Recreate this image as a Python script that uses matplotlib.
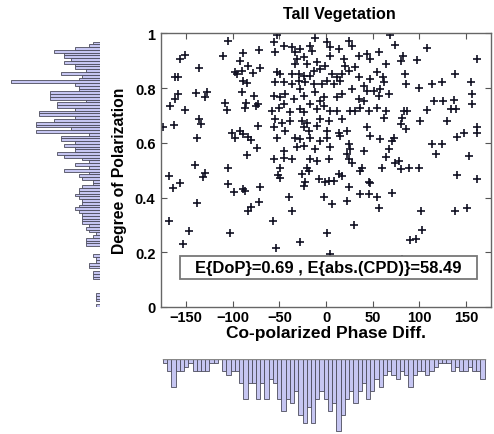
import numpy as np
import matplotlib.pyplot as plt
from matplotlib.patches import Rectangle

plt.rcParams['font.family'] = ['Liberation Sans', 'DejaVu Sans']
plt.rcParams['font.weight'] = 'bold'

# scatter: co-polarized phase difference (deg) vs degree of polarization
phase_diff = [
    -104.7, -151.3, -156.7, -110.1, -89.2, -71.4, -92.2, -135.9, -162.0, -158.5,
    -97.5, -95.7, -83.2, -90.3, -78.5, -70.6, -88.6, -84.3, -158.5, -162.0,
    -139.5, -128.0, -129.8, -90.3, -77.8, -72.5, -74.9, -85.7, -86.8, -167.4,
    -151.3, -108.3, -106.5, -174.6, -163.1, -135.9, -134.4, -138.7, -101.1, -97.5,
    -92.2, -88.6, -83.2, -80.6, -72.5, -74.2, -84.3, -140.5, -104.7,
    -168.2, -164.5, -156.7, -129.8, -132.3, -104.7, -98.6, -88.6, -86.8, -70.6,
    -138.7, -83.2, -80.6, -71.4, -168.2, -146.7, -102.9, -153.1, -51.0,
    -52.7, -56.3, -45.6, -54.5, -36.6, -33.0, -27.6, -16.9, -15.1, -11.5,
    1.0, 3.9, 13.6, 24.3, 27.9, 35.1, 44.0, 47.6, 56.6, -31.2,
    -24.1, -33.0, -20.5, -9.7, -0.8, 4.6, 18.9, 20.7, 31.5, -52.7,
    -49.1, -36.6, -29.4, -24.1, -16.9, -13.3, -6.1, 6.4, 11.8, 17.2,
    24.3, 35.1, 40.5, 47.6, 54.8, -54.5, -45.6, -36.6, -29.4, -22.3,
    -27.6, -13.3, -4.3, 1.0, 8.2, 15.4, 27.9, 44.0, 51.2, -43.8,
    -49.1, -56.3, -34.8, -24.1, -11.5, -6.1, -2.6, 11.8, 17.2, 35.1,
    40.5, 56.6, 58.4, -58.1, -50.9, -45.6, -38.4, -27.6, -24.1, -25.9,
    -16.9, -9.7, -6.1, -2.6, 4.6, 11.8, 26.1, 31.5, 36.9, 45.8,
    54.8, -54.5, -47.4, -38.4, -20.5, 2.8, 17.2, -56.3, -43.8, -24.1,
    -18.7, -9.7, 1.0, 13.6, 22.5, 44.0, -52.7, -33.0, -27.6, -16.9,
    -6.1, 1.0, 15.4, 47.6, 58.4, -45.6, -31.2, -24.1, -11.5, 4.6,
    24.3, 26.1, 22.5, 40.5, -56.3, -45.6, -36.6, -16.9, -9.7, 2.8,
    24.3, 27.9, -49.1, -20.5, 38.7,
    68.4, 74.5, 63.8, 79.9, 82.8, 97.8, 107.9, 161.6, 84.2, 61.3,
    62.7, 85.3, 99.6, 114.0, 124.7, 138.0, 155.2, 157.0, 67.4, 115.7,
    125.8, 137.2, 157.0, 63.8, 62.0, 83.5, 87.1, 108.6, 133.7, 139.0,
    81.7, 79.9, 85.3, 100.7, 130.1, 162.3, 162.3, 148.0, 140.8, 72.7,
    70.9, 114.0, 124.7, 67.4, 117.5, 153.4, 63.8, 74.5, 78.1, 88.9,
    99.6, 79.9, 60.2,
    -49.9, -25.9, -18.7, -24.1, -22.3, -7.9, -0.8, 2.8, 8.2, 13.6,
    17.2, 24.3, 36.1, 45.8, 47.6, 36.9, 45.8, 54.8, -40.2, -2.6,
    6.4, 22.5, -36.6, -57.0, 29.7, 1.0, -28.4, -53.4, 4.6, 56.6,
    70.9, 101.4, 137.9, 150.9, 103.2, 89.9, 96.0, 81.7, 140.9, 162.3,
]
dop = [
    0.971, 0.922, 0.906, 0.918, 0.930, 0.940, 0.900, 0.872, 0.841, 0.841,
    0.857, 0.851, 0.882, 0.863, 0.854, 0.873, 0.827, 0.820, 0.778, 0.760,
    0.782, 0.784, 0.766, 0.786, 0.772, 0.741, 0.735, 0.747, 0.729, 0.735,
    0.719, 0.747, 0.719, 0.656, 0.664, 0.686, 0.668, 0.617, 0.637, 0.617,
    0.644, 0.632, 0.622, 0.610, 0.662, 0.582, 0.556, 0.518, 0.509,
    0.480, 0.435, 0.453, 0.490, 0.474, 0.449, 0.421, 0.431, 0.425, 0.437,
    0.380, 0.352, 0.364, 0.385, 0.315, 0.278, 0.272, 0.230, 0.482,
    0.995, 0.967, 0.955, 0.931, 0.949, 0.931, 0.943, 0.955, 0.937, 0.983,
    0.967, 0.949, 0.943, 0.973, 0.955, 0.918, 0.924, 0.906, 0.931, 0.906,
    0.912, 0.888, 0.888, 0.894, 0.882, 0.918, 0.906, 0.882, 0.876, 0.857,
    0.851, 0.851, 0.851, 0.845, 0.845, 0.863, 0.869, 0.851, 0.839, 0.851,
    0.863, 0.839, 0.808, 0.833, 0.857, 0.821, 0.821, 0.815, 0.827, 0.821,
    0.796, 0.815, 0.815, 0.827, 0.815, 0.827, 0.796, 0.790, 0.790, 0.778,
    0.766, 0.772, 0.760, 0.772, 0.784, 0.753, 0.766, 0.766, 0.778, 0.760,
    0.753, 0.772, 0.796, 0.717, 0.729, 0.741, 0.711, 0.723, 0.711, 0.680,
    0.741, 0.723, 0.686, 0.735, 0.717, 0.717, 0.717, 0.717, 0.729, 0.717,
    0.729, 0.686, 0.674, 0.680, 0.674, 0.680, 0.686, 0.656, 0.644, 0.656,
    0.644, 0.662, 0.644, 0.637, 0.644, 0.656, 0.619, 0.619, 0.613, 0.619,
    0.607, 0.619, 0.625, 0.625, 0.613, 0.570, 0.583, 0.589, 0.576, 0.583,
    0.595, 0.576, 0.558, 0.570, 0.540, 0.546, 0.540, 0.540, 0.534, 0.540,
    0.540, 0.528, 0.509, 0.509, 0.509,
    0.995, 0.959, 0.888, 0.900, 0.918, 0.902, 0.946, 0.906, 0.853, 0.839,
    0.821, 0.815, 0.800, 0.815, 0.824, 0.853, 0.821, 0.778, 0.778, 0.751,
    0.751, 0.756, 0.741, 0.717, 0.692, 0.717, 0.717, 0.719, 0.723, 0.723,
    0.692, 0.668, 0.650, 0.680, 0.680, 0.656, 0.637, 0.637, 0.622, 0.619,
    0.607, 0.597, 0.597, 0.576, 0.558, 0.552, 0.548, 0.528, 0.534, 0.509,
    0.509, 0.503, 0.507,
    0.470, 0.486, 0.498, 0.443, 0.456, 0.468, 0.456, 0.462, 0.462, 0.486,
    0.480, 0.437, 0.498, 0.458, 0.453, 0.413, 0.413, 0.401, 0.401, 0.401,
    0.376, 0.388, 0.352, 0.315, 0.299, 0.272, 0.238, 0.217, 0.193, 0.360,
    0.416, 0.352, 0.352, 0.360, 0.282, 0.245, 0.248, 0.175, 0.482, 0.468,
]

# DoP histogram counts, read from the top bin (DoP ~0.97) down to DoP ~0
dop_counts = [
    2, 3, 7, 13, 10, 10, 8, 10, 7, 7,
    4, 11, 5, 6, 25, 7, 6, 6, 14, 14,
    14, 4, 12, 12, 7, 17, 17, 7, 13, 18,
    18, 8, 18, 3, 11, 11, 7, 10, 7, 7,
    12, 10, 5, 3, 7, 3, 10, 3, 6, 5,
    2, 2, 5, 6, 6, 7, 6, 5, 5, 6,
    7, 6, 5, 5, 5, 5, 3, 4, 3, 1,
    2, 4, 4, 4, 0, 0, 0, 2, 1, 1,
    3, 3, 0, 2, 2, 2, 0, 0, 0, 0,
    0, 1, 1, 1, 0, 1,
]
dop_top, dop_bottom = 0.97, 0.0

# phase difference histogram counts, left (-175 deg) to right (170 deg)
cpd_counts = [
    1, 3, 7, 3, 3, 2, 1, 3, 3, 3,
    3, 1, 1, 0, 3, 4, 3, 3, 6, 10,
    6, 6, 10, 6, 10, 5, 6, 10, 13, 10,
    11, 8, 14, 16, 12, 16, 10, 8, 10, 13,
    11, 18, 14, 10, 8, 11, 8, 6, 10, 8,
    5, 7, 4, 3, 4, 5, 3, 4, 7, 4,
    3, 3, 4, 3, 2, 1, 1, 1, 3, 2,
    3, 3, 2, 3, 3, 5,
]
cpd_left, cpd_right = -175.0, 170.0

bar_face = '#c6c6f2'
bar_edge = '#4c4c5c'

fig = plt.figure(figsize=(4.94, 4.35), dpi=100)

# main scatter
ax = fig.add_axes([0.326, 0.292, 0.668, 0.629])
ax.plot(phase_diff, dop, '+', color='#101022', ms=6, mew=1.2, zorder=2)
ax.set_xlim(-177, 177)
ax.set_ylim(0, 1)
ax.set_xticks([-150, -100, -50, 0, 50, 100, 150])
ax.set_yticks([0, 0.2, 0.4, 0.6, 0.8, 1])
ax.set_yticklabels(['0', '0.2', '0.4', '0.6', '0.8', '1'])
ax.tick_params(direction='in', top=True, right=True, length=4, width=0.8,
               labelsize=10.5, color='#555555', pad=4)
ax.tick_params(axis='x', pad=2)
for s in ax.spines.values():
    s.set_color('#666666')
    s.set_linewidth(1.0)
ax.set_title('Tall Vegetation', fontsize=11.6, fontweight='bold', pad=11, x=0.54)
ax.set_xlabel('Co-polarized Phase Diff.', fontsize=12.5, fontweight='bold', labelpad=1)
ax.set_ylabel('Degree of Polarization', fontsize=11.3, fontweight='bold', labelpad=6)

# stats box
ax.add_patch(Rectangle((0.058, 0.102), 0.9, 0.084, transform=ax.transAxes,
                       facecolor='white', edgecolor='#777777', lw=1.3, zorder=3))
ax.text(0.508, 0.144, 'E{DoP}=0.69 , E{abs.(CPD)}=58.49', transform=ax.transAxes,
        ha='center', va='center', fontsize=11.9, fontweight='bold', zorder=4)

# left histogram of DoP
axl = fig.add_axes([0.0, 0.292, 0.2024, 0.629], sharey=ax)
n = len(dop_counts)
edges = np.linspace(dop_top, dop_bottom, n + 1)
centers = (edges[:-1] + edges[1:]) / 2
axl.barh(centers, dop_counts, height=abs(edges[1] - edges[0]),
         color=bar_face, edgecolor=bar_edge, linewidth=0.6)
axl.set_xlim(28, 0)
axl.axis('off')

# bottom histogram of phase difference
axb = fig.add_axes([0.326, 0.0, 0.668, 0.1724], sharex=ax)
m = len(cpd_counts)
edges = np.linspace(cpd_left, cpd_right, m + 1)
centers = (edges[:-1] + edges[1:]) / 2
axb.bar(centers, cpd_counts, width=edges[1] - edges[0],
        color=bar_face, edgecolor=bar_edge, linewidth=0.6)
axb.plot([cpd_left, cpd_right], [0, 0], color='#888888', lw=1.0)
axb.set_ylim(18.75, 0)
axb.axis('off')

fig.savefig('out.png', dpi=100)
